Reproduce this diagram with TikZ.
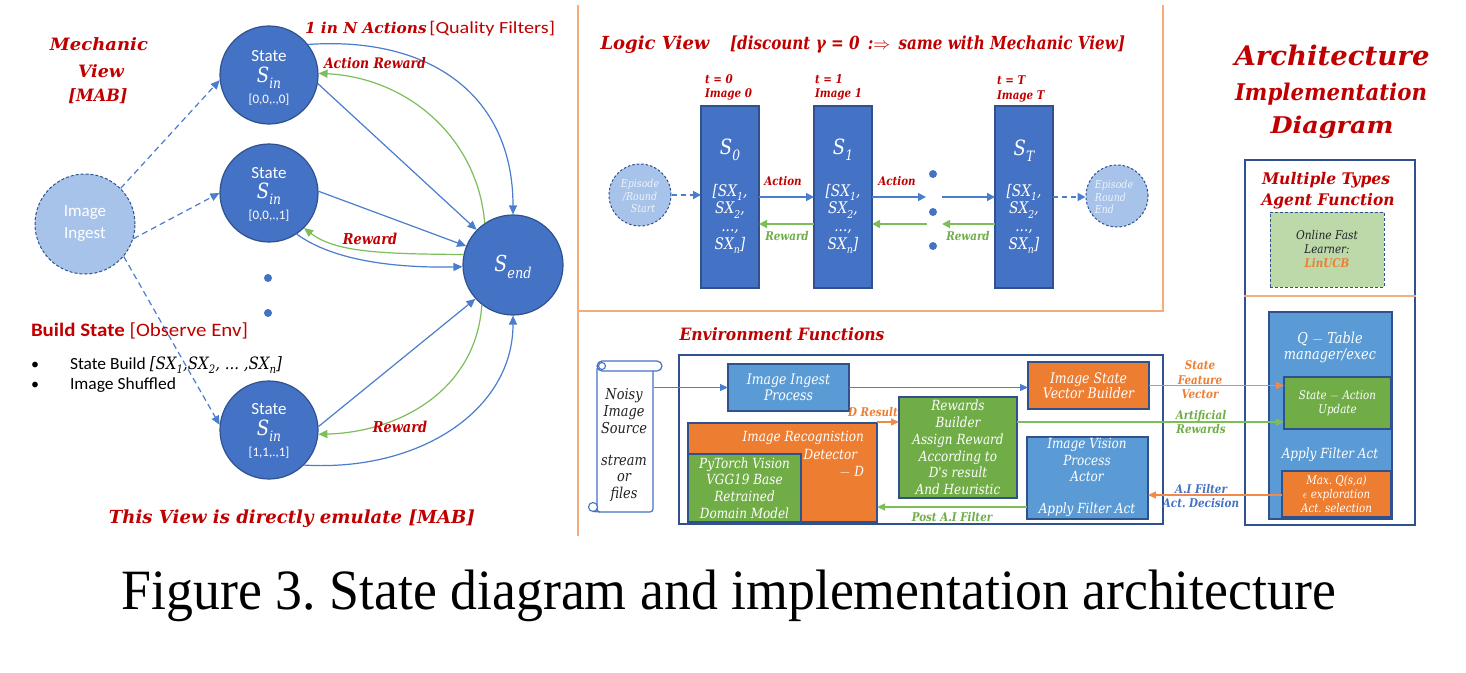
\documentclass[tikz,border=0pt]{standalone}
\usepackage{fontspec}
\usepackage{graphicx}
\setmainfont{Carlito}
\newfontfamily\cam{DejaVu Serif}[FakeStretch=0.86]
\newfontfamily\tnr{Liberation Serif}
\usetikzlibrary{arrows.meta}
\definecolor{red1}{HTML}{C00000}
\definecolor{mblue}{HTML}{4472C4}
\definecolor{dblue}{HTML}{2F528F}
\definecolor{lblue}{HTML}{5B9BD5}
\definecolor{orng}{HTML}{ED7D31}
\definecolor{grn}{HTML}{70AD47}
\definecolor{pale}{HTML}{A7C3EA}
\definecolor{palegrn}{HTML}{BDD9AA}
\definecolor{lorng}{HTML}{F4AC7C}
\definecolor{ablue}{HTML}{4A7DCD}
\definecolor{agrn}{HTML}{7DBE5A}
\definecolor{aorng}{HTML}{F08A4B}
\definecolor{epitext}{HTML}{EEF3FA}
\definecolor{darktext}{HTML}{222222}
\newcommand\Lsub[1]{\raisebox{-0.28em}{\scalebox{0.68}{#1}}}
\newcommand\Fs[1]{\fontsize{#1}{#1}\selectfont}
\newcommand\Fsl[2]{\fontsize{#1}{#2}\selectfont}
\newcommand\Fw[2]{\resizebox{#1}{\height}{#2}}
\newcommand\Bi{\cam\bfseries\itshape}
\newcommand\Ci{\cam\itshape}
\frenchspacing
\tikzset{
  lab/.style={inner sep=0pt, outer sep=0pt, align=center},
  redt/.style={lab, text=red1},
  circ/.style={circle, draw=dblue, line width=1.2pt, fill=mblue, minimum size=#1, inner sep=0pt},
  circ/.default=98pt,
  ingc/.style={circle, draw=dblue, line width=1pt, dash pattern=on 3pt off 2pt, fill=pale, minimum size=100pt, inner sep=0pt},
  epic/.style={circle, draw=dblue, line width=1pt, dash pattern=on 2.5pt off 2pt, fill=pale, minimum size=62pt, inner sep=0pt},
  dotn/.style={circle, fill=mblue, minimum size=8pt, inner sep=0pt},
  bx/.style={draw=dblue, line width=1.3pt, inner sep=0pt, outer sep=0pt, text=white, align=center},
  barr/.style={draw=ablue, line width=1.2pt, -{Triangle[length=9pt,width=8pt]}},
  garr/.style={draw=agrn, line width=1.2pt, -{Triangle[length=9pt,width=8pt]}},
  darr/.style={barr, dash pattern=on 6pt off 4pt},
  larr/.style={draw=ablue, line width=1.7pt, -{Triangle[length=8pt,width=8pt]}},
  lgarr/.style={draw=agrn, line width=1.7pt, -{Triangle[length=8pt,width=8pt]}},
  ldarr/.style={larr, dash pattern=on 5pt off 4pt},
  earr/.style={draw=ablue, line width=1.2pt, -{Triangle[length=8pt,width=7pt]}},
  eoarr/.style={draw=aorng, line width=1.2pt, -{Triangle[length=8pt,width=7pt]}},
  egarr/.style={draw=agrn, line width=1.2pt, -{Triangle[length=8pt,width=7pt]}},
  sep/.style={draw=lorng, line width=1.5pt},
}
\begin{document}
\begin{tikzpicture}[x=1pt,y=-1pt]
\useasboundingbox[fill=white] (0,0) rectangle (1466,672);

% ================= LEFT PANEL: MECHANIC VIEW =================
\node[redt, font=\Fs{17}\Bi, anchor=base] (mv1) at (99,50) {\Fw{98pt}{Mechanic}};
\node[redt, font=\Fs{17}\Bi, anchor=base] (mv2) at (101,77) {\Fw{46pt}{View}};
\node[redt, font=\Fs{17}\Bi, anchor=base] (mv3) at (98,101) {\Fw{59pt}{[MAB]}};

\node[circ] (c1) at (269,75) {};
\node[circ] (c2) at (269,193) {};
\node[circ] (c3) at (269,430) {};
\node[circ=100pt] (send) at (513,265) {};
\node[ingc] (ing) at (85,224) {};

\node[lab, text=white, font=\Fs{17}] (c1a) at (269,56) {State};
\node[lab, text=white, font=\Fs{21}\Ci] (c1b) at (269,78) {S\Lsub{in}};
\node[lab, text=white, font=\Fs{13}] (c1c) at (269,100) {[0,0,.,0]};
\node[lab, text=white, font=\Fs{17}] (c2a) at (269,173) {State};
\node[lab, text=white, font=\Fs{21}\Ci] (c2b) at (269,194) {S\Lsub{in}};
\node[lab, text=white, font=\Fs{13}] (c2c) at (269,216) {[0,0,.,1]};
\node[lab, text=white, font=\Fs{17}] (c3a) at (269,409) {State};
\node[lab, text=white, font=\Fs{21}\Ci] (c3b) at (269,431) {S\Lsub{in}};
\node[lab, text=white, font=\Fs{13}] (c3c) at (269,453) {[1,1,.,1]};
\node[lab, text=white, font=\Fs{22}\Ci] (sendt) at (513,267) {S\Lsub{end}};
\node[lab, text=white, font=\Fs{17}] (inga) at (85,213) {Image};
\node[lab, text=white, font=\Fs{17}] (ingb) at (85,235) {Ingest};

\node[dotn] (d1) at (268,278) {};
\node[dotn] (d2) at (268,313) {};

% connectors, state 1
\draw[barr] (c1.38) .. controls (430,36) and (513,95) .. (send.90);
\draw[barr] (c1.-10) -- (send.136);
\draw[garr] (send.124) .. controls (478,140) and (410,78) .. (c1.2);
% state 2
\draw[barr] (c2.2) -- (send.158);
\draw[garr] (send.168) .. controls (380,254) and (335,252) .. (c2.-45);
\draw[barr] (c2.-56) .. controls (335,262) and (400,268) .. (send.182);
% state 3
\draw[barr] (c3.4) -- (send.222);
\draw[garr] (send.232) .. controls (476,390) and (400,432) .. (c3.-5);
\draw[barr] (c3.-45) .. controls (420,472) and (513,410) .. (send.270);
% image ingest
\draw[darr] (ing.45) -- (c1.186);
\draw[darr] (ing.-17) -- (c2.180);
\draw[darr] (ing.-40) -- (c3.174);

\node[lab, text=red1, anchor=base west] (topl) at (305,33) {\Fw{250pt}{{\Fs{15}\Bi 1 in N Actions} {\normalfont\Fs{17}[Quality Filters]}}};
\node[redt, font=\Fs{14.5}\Bi, anchor=base] (arl) at (375,68) {Action Reward};
\node[redt, font=\Fs{15}\Bi, anchor=base] (rl2) at (370,244) {Reward};
\node[redt, font=\Fs{15}\Bi, anchor=base] (rl3) at (400,432) {Reward};

\node[lab, text=red1, font=\Fs{19}, anchor=base west] (bst) at (31,336) {\Fw{217pt}{\textbf{Build State} [Observe Env]}};
\node[lab, font=\Fs{16}, anchor=base] (bd1) at (35,369) {•};
\node[lab, font=\Fs{16}, anchor=base] (bd2) at (35,389) {•};
\node[lab, font=\Fs{17}, anchor=base west] (bl1) at (70,369) {\Fw{212pt}{State Build {\Ci [SX\Lsub{1},SX\Lsub{2}, ... ,SX\Lsub{n}]}}};
\node[lab, font=\Fs{17}, anchor=base west] (bl2) at (70,389) {\Fw{106pt}{Image Shuffled}};

\node[redt, font=\Fs{18}\Bi, anchor=base] (emu) at (292,523) {\Fw{366pt}{This View is directly emulate [MAB]}};

% ================= SEPARATORS =================
\draw[sep] (578,5) -- (578,536);
\draw[sep] (578,311) -- (1163,311) -- (1163,5);

% ================= LOGIC VIEW =================
\node[redt, font=\Fs{18}\Bi, anchor=base] (lv) at (655,49) {\Fw{109pt}{Logic View}};
\node[redt, font=\Fs{18}\Bi, anchor=base west] (lvd) at (730,49) {\Fw{395pt}{[discount γ = 0 \,:$\Rightarrow$\, same with Mechanic View]}};

\node[redt, font=\Fs{12}\Bi, anchor=base west] (t0a) at (705,83) {t = 0};
\node[redt, font=\Fs{12}\Bi, anchor=base west] (t0b) at (705,97) {Image 0};
\node[redt, font=\Fs{12}\Bi, anchor=base west] (t1a) at (815,83) {t = 1};
\node[redt, font=\Fs{12}\Bi, anchor=base west] (t1b) at (815,97) {Image 1};
\node[redt, font=\Fs{12}\Bi, anchor=base west] (tTa) at (997,84) {t = T};
\node[redt, font=\Fs{12}\Bi, anchor=base west] (tTb) at (997,99) {Image T};

\node[bx, fill=mblue, minimum width=58pt, minimum height=182pt] (s0) at (730,197) {};
\node[bx, fill=mblue, minimum width=58pt, minimum height=182pt] (s1) at (843,197) {};
\node[bx, fill=mblue, minimum width=58pt, minimum height=182pt] (sT) at (1024,197) {};
\node[lab, text=white, font=\Fs{21}\Ci] (s0n) at (730,150) {S\Lsub{0}};
\node[lab, text=white, font=\Fs{21}\Ci] (s1n) at (843,150) {S\Lsub{1}};
\node[lab, text=white, font=\Fs{21}\Ci] (sTn) at (1024,151) {S\Lsub{T}};
\node[lab, text=white, font=\Fsl{16}{17.7}\Ci] (s0v) at (730,219) {[SX\Lsub{1},\\SX\Lsub{2},\\...,\\SX\Lsub{n}]};
\node[lab, text=white, font=\Fsl{16}{17.7}\Ci] (s1v) at (843,219) {[SX\Lsub{1},\\SX\Lsub{2},\\...,\\SX\Lsub{n}]};
\node[lab, text=white, font=\Fsl{16}{17.7}\Ci] (sTv) at (1024,219) {[SX\Lsub{1},\\SX\Lsub{2},\\...,\\SX\Lsub{n}]};

\node[epic] (st) at (640,195) {};
\node[lab, text=epitext, font=\Fsl{11}{12.8}\Ci] (stt) at (640,196) {Episode\\/Round\\\hspace*{6pt}Start};
\node[epic] (en) at (1117,196) {};
\node[lab, text=epitext, font=\Fsl{11}{12.8}\Ci, align=left] (ent) at (1114,197) {Episode\\Round\\End};

\coordinate (g1) at (926,197);
\coordinate (g2) at (942,197);
\coordinate (g3) at (927,224);
\coordinate (g4) at (942,224);
\draw[ldarr] (st.east) -- (st.east -| s0.west);
\draw[larr] (s0.east) -- (s1.west);
\draw[larr] (s1.east) -- (g1);
\draw[larr] (g2) -- (sT.west);
\draw[lgarr] ([yshift=-27pt]s1.west) -- ([yshift=-27pt]s0.east);
\draw[lgarr] (g3) -- ([yshift=-27pt]s1.east);
\draw[lgarr] ([yshift=-27pt]sT.west) -- (g4);
\draw[ldarr] (sT.east) -- (sT.east -| en.west);

\node[dotn, minimum size=8pt] (ld1) at (933,174) {};
\node[dotn, minimum size=8pt] (ld2) at (933,212) {};
\node[dotn, minimum size=8pt] (ld3) at (933,246) {};

\node[redt, font=\Fs{12}\Bi] (ac1) at (783,181) {Action};
\node[redt, font=\Fs{12}\Bi] (ac2) at (897,181) {Action};
\node[lab, text=grn, font=\Fs{12}\Bi] (rw1) at (787,236) {Reward};
\node[lab, text=grn, font=\Fs{12}\Bi] (rw2) at (968,236) {Reward};

% ================= ARCHITECTURE =================
\node[redt, font=\Fs{27}\Bi, anchor=base] (ar1) at (1332,65) {\Fw{195pt}{Architecture}};
\node[redt, font=\Fs{23}\Bi, anchor=base] (ar2) at (1331,100) {\Fw{192pt}{Implementation}};
\node[redt, font=\Fs{23}\Bi, anchor=base] (ar3) at (1332,133) {\Fw{123pt}{Diagram}};

\node[draw=dblue, line width=1.2pt, minimum width=170pt, minimum height=365pt, inner sep=0pt] (agent) at (1330,342.5) {};
\draw[sep] (agent.west |- 0,296) -- (agent.east |- 0,296);
\node[redt, font=\Fs{16}\Bi, anchor=base] (mt1) at (1326,184) {\Fw{128pt}{Multiple Types}};
\node[redt, font=\Fs{16}\Bi, anchor=base] (mt2) at (1328,205) {\Fw{133pt}{Agent Function}};
\node[draw=dblue, line width=1pt, dash pattern=on 3pt off 2pt, fill=palegrn, minimum width=114pt, minimum height=75pt, inner sep=0pt] (ofl) at (1327,249.5) {};
\node[lab, text=darktext, font=\Fsl{12}{14}\Ci] (oflt) at (1327,242) {\Fw{62pt}{Online Fast}\\Learner:};
\node[lab, text=orng, font=\Fs{12}\Bi] (lucb) at (1327,263) {LinUCB};

\node[bx, fill=lblue, minimum width=123pt, minimum height=207pt] (qt) at (1330.5,415.5) {};
\node[lab, text=white, font=\Fsl{15}{16}\Ci] (qtt) at (1330,347) {Q $-$ Table\\manager/exec};
\node[bx, fill=grn, minimum width=107pt, minimum height=52pt, font=\Fsl{12}{14}\Ci] (sa) at (1337.5,403) {State $-$ Action\\Update};
\node[lab, text=white, font=\Fs{14}\Ci] (qaf) at (1330,455) {Apply Filter Act};
\node[bx, fill=orng, minimum width=109pt, minimum height=46pt, font=\Fsl{12}{14}\Ci] (maxq) at (1336.5,494) {Max. Q(s,a)\\$\epsilon$ exploration\\Act. selection};

% ================= ENVIRONMENT =================
\node[redt, font=\Fs{17}\Bi] (envt) at (782,334) {\Fw{205pt}{Environment Functions}};
\node[draw=dblue, line width=1.3pt, minimum width=484pt, minimum height=169pt, inner sep=0pt] (env) at (921,439.5) {};

% scroll
\node[draw=mblue, fill=white, line width=1.2pt, minimum width=56pt, minimum height=146pt, inner sep=0pt, rounded corners=3pt] (scroll) at (625,439) {};
\draw[mblue, line width=1.2pt, fill=white, rounded corners=5pt] (597,361) rectangle (662,371);
\draw[mblue, line width=1.1pt, fill=white] (602,366) circle (3.5pt);
\draw[mblue, line width=1.1pt, fill=white] (593,507) circle (4.5pt);
\draw[mblue, line width=1.1pt] (593,511.5) -- (600,512);
\node[lab, text=darktext, font=\Fsl{15}{17}\Ci] (scr1) at (624,411) {Noisy\\Image\\Source};
\node[lab, text=darktext, font=\Fsl{15}{16.5}\Ci] (scr2) at (624,478) {stream\\or\\files};

\node[bx, fill=lblue, minimum width=121pt, minimum height=47pt, font=\Fsl{14.5}{16}\Ci] (ingp) at (788.5,387.5) {Image Ingest\\Process};
\node[bx, fill=orng, minimum width=121pt, minimum height=47pt, font=\Fsl{14.5}{15.5}\Ci] (isvb) at (1088.5,385.5) {Image State\\Vector Builder};
\node[bx, fill=grn, minimum width=118pt, minimum height=101pt, font=\Fsl{14}{16.8}\Ci] (rew) at (958,447.5) {Rewards\\Builder\\Assign Reward\\According to\\D's result\\And Heuristic};
\node[bx, fill=orng, minimum width=189pt, minimum height=99pt] (det) at (782.5,472.5) {};
\node[lab, text=white, font=\Fs{14}\Ci, anchor=east] (deta) at (864,438) {Image Recognistion};
\node[lab, text=white, font=\Fs{14}\Ci, anchor=east] (detb) at (857,454) {Detector};
\node[lab, text=white, font=\Fs{14}\Ci, anchor=east] (detc) at (864,472) {$-$ D};
\node[bx, fill=grn, minimum width=113pt, minimum height=68pt, font=\Fsl{14}{16.6}\Ci] (pyt) at (744.5,488) {PyTorch Vision\\VGG19 Base\\Retrained\\Domain Model};
\node[bx, fill=lblue, minimum width=121pt, minimum height=82pt] (act) at (1087.5,478) {};
\node[lab, text=white, font=\Fsl{14}{16.7}\Ci] (acta) at (1087,460) {Image Vision\\Process\\Actor};
\node[lab, text=white, font=\Fs{14}\Ci] (actb) at (1087,510) {Apply Filter Act};

\draw[earr] (scroll.east |- ingp.west) -- (ingp.west);
\draw[earr] (ingp.east) -- (ingp.east -| isvb.west);
\draw[eoarr] (isvb.east) -- (isvb.east -| sa.west);
\draw[egarr] (rew.east |- 0,422) -- (sa.west |- 0,422);
\draw[eoarr] (det.east |- 0,422) -- (rew.west |- 0,422);
\draw[egarr] (act.west |- 0,507) -- (det.east |- 0,507);
\draw[eoarr] (maxq.west |- 0,495) -- (act.east |- 0,495);

\node[lab, text=orng, font=\Fsl{12}{14.5}\Bi] (sfv) at (1200,380) {State\\Feature\\Vector};
\node[lab, text=grn, font=\Fsl{12}{14}\Bi] (arw) at (1201,422) {Artificial\\Rewards};
\node[lab, text=mblue, font=\Fsl{12}{14}\Bi] (aif) at (1201,496) {A.I Filter\\Act. Decision};
\node[lab, text=orng, font=\Fs{12}\Bi] (dres) at (873,412) {D Result};
\node[lab, text=grn, font=\Fs{12}\Bi] (paf) at (952,517) {Post A.I Filter};

% ================= CAPTION =================
\node[lab, font=\Fs{57}\tnr, anchor=base] (cap) at (729,609) {\Fw{1214pt}{Figure 3. State diagram and implementation architecture}};
\end{tikzpicture}
\end{document}
